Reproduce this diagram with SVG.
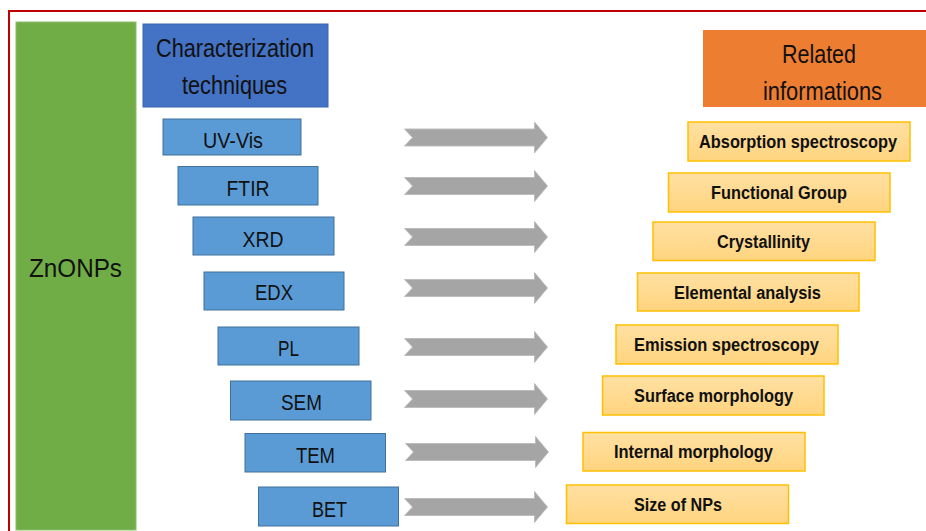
<svg xmlns="http://www.w3.org/2000/svg" xmlns:xlink="http://www.w3.org/1999/xlink" width="926" height="531" viewBox="0 0 926 531">
<defs>
<linearGradient id="og" x1="0" y1="0" x2="0" y2="1">
<stop offset="0" stop-color="#FFE0A3"/>
<stop offset="1" stop-color="#FFD47E"/>
</linearGradient>
<path id="arr" d="M0,-8.5 L130,-8.5 L130,-15.5 L143,0 L130,15.5 L130,8.5 L0,8.5 L8,0 Z"/>
</defs>
<style>
.frame{fill:none;stroke:#C00000;stroke-width:2}
.tech{fill:#5B9BD5;stroke:#41719C;stroke-width:1}
.info{fill:url(#og);stroke:#FFC000;stroke-width:1.5}
.lt{font-family:"Liberation Sans",Arial,sans-serif;font-size:22px;fill:#111;text-anchor:middle}
.rt{font-family:"Liberation Sans",Arial,sans-serif;font-size:18px;font-weight:bold;fill:#111;text-anchor:middle}
.hd{font-family:"Liberation Sans",Arial,sans-serif;font-size:25px;fill:#111;text-anchor:middle}
.ar{fill:#A5A5A5;stroke:#BDBDBD;stroke-width:1}
</style>
<rect width="926" height="531" fill="#FFFFFF"/>
<rect class="frame" x="9" y="11" width="940" height="540"/>

<g id="zno">
<rect x="16" y="22" width="120" height="508" fill="#70AD47" stroke="#8CC06A" stroke-width="1"/>
<text class="hd" x="75.5" y="277" textLength="93" lengthAdjust="spacingAndGlyphs">ZnONPs</text>
</g>

<g id="head-tech">
<rect x="143" y="24" width="185" height="83" fill="#4472C4" stroke="#3A64AE" stroke-width="1"/>
<text class="hd" x="235" y="57" textLength="158" lengthAdjust="spacingAndGlyphs">Characterization</text>
<text class="hd" x="234.5" y="94" textLength="105" lengthAdjust="spacingAndGlyphs">techniques</text>
</g>

<g id="head-info">
<rect x="703" y="30" width="226" height="77" fill="#ED7D31"/>
<text class="hd" x="819" y="63" textLength="74" lengthAdjust="spacingAndGlyphs">Related</text>
<text class="hd" x="822.5" y="100" textLength="119" lengthAdjust="spacingAndGlyphs">informations</text>
</g>

<g id="t-uvvis"><rect class="tech" x="163" y="119" width="138" height="36"/><text class="lt" x="233" y="148" textLength="60" lengthAdjust="spacingAndGlyphs">UV-Vis</text></g>
<g id="t-ftir"><rect class="tech" x="178" y="166.5" width="140" height="38.5"/><text class="lt" x="248" y="196" textLength="43" lengthAdjust="spacingAndGlyphs">FTIR</text></g>
<g id="t-xrd"><rect class="tech" x="193" y="217" width="141" height="38"/><text class="lt" x="263" y="247" textLength="41" lengthAdjust="spacingAndGlyphs">XRD</text></g>
<g id="t-edx"><rect class="tech" x="204" y="272" width="140" height="38"/><text class="lt" x="274" y="300" textLength="38" lengthAdjust="spacingAndGlyphs">EDX</text></g>
<g id="t-pl"><rect class="tech" x="218" y="327" width="141" height="38"/><text class="lt" x="288.5" y="356" textLength="21" lengthAdjust="spacingAndGlyphs">PL</text></g>
<g id="t-sem"><rect class="tech" x="230.5" y="381" width="140.5" height="39"/><text class="lt" x="301.5" y="410" textLength="41" lengthAdjust="spacingAndGlyphs">SEM</text></g>
<g id="t-tem"><rect class="tech" x="245" y="433.5" width="140.5" height="38.5"/><text class="lt" x="315.5" y="463" textLength="39" lengthAdjust="spacingAndGlyphs">TEM</text></g>
<g id="t-bet"><rect class="tech" x="258.5" y="487" width="140" height="39"/><text class="lt" x="329.5" y="517" textLength="35" lengthAdjust="spacingAndGlyphs">BET</text></g>

<g id="connectors">
<use xlink:href="#arr" class="ar" x="404.5" y="137.5"/>
<use xlink:href="#arr" class="ar" x="404.5" y="186"/>
<use xlink:href="#arr" class="ar" x="404.5" y="237"/>
<use xlink:href="#arr" class="ar" x="404.5" y="288"/>
<use xlink:href="#arr" class="ar" x="404.5" y="347"/>
<use xlink:href="#arr" class="ar" x="404.5" y="399"/>
<use xlink:href="#arr" class="ar" x="405.5" y="452"/>
<use xlink:href="#arr" class="ar" x="404.5" y="507"/>
</g>

<g id="i-abs"><rect class="info" x="688" y="122" width="222" height="39"/><text class="rt" x="798" y="148" textLength="198" lengthAdjust="spacingAndGlyphs">Absorption spectroscopy</text></g>
<g id="i-func"><rect class="info" x="668.5" y="173" width="221.5" height="39"/><text class="rt" x="779" y="199" textLength="136" lengthAdjust="spacingAndGlyphs">Functional Group</text></g>
<g id="i-cry"><rect class="info" x="653" y="222" width="222" height="38.5"/><text class="rt" x="763.5" y="248" textLength="93" lengthAdjust="spacingAndGlyphs">Crystallinity</text></g>
<g id="i-ele"><rect class="info" x="637.5" y="273" width="221.5" height="38"/><text class="rt" x="747.5" y="299" textLength="147" lengthAdjust="spacingAndGlyphs">Elemental analysis</text></g>
<g id="i-emi"><rect class="info" x="616" y="325" width="222" height="39"/><text class="rt" x="726.5" y="351" textLength="185" lengthAdjust="spacingAndGlyphs">Emission spectroscopy</text></g>
<g id="i-sur"><rect class="info" x="602.5" y="376" width="221.5" height="39"/><text class="rt" x="713.5" y="402" textLength="159" lengthAdjust="spacingAndGlyphs">Surface morphology</text></g>
<g id="i-int"><rect class="info" x="583" y="432.5" width="222" height="38.5"/><text class="rt" x="693.5" y="458" textLength="159" lengthAdjust="spacingAndGlyphs">Internal morphology</text></g>
<g id="i-size"><rect class="info" x="566.5" y="485" width="222" height="38.5"/><text class="rt" x="678" y="511" textLength="88" lengthAdjust="spacingAndGlyphs">Size of NPs</text></g>
</svg>
